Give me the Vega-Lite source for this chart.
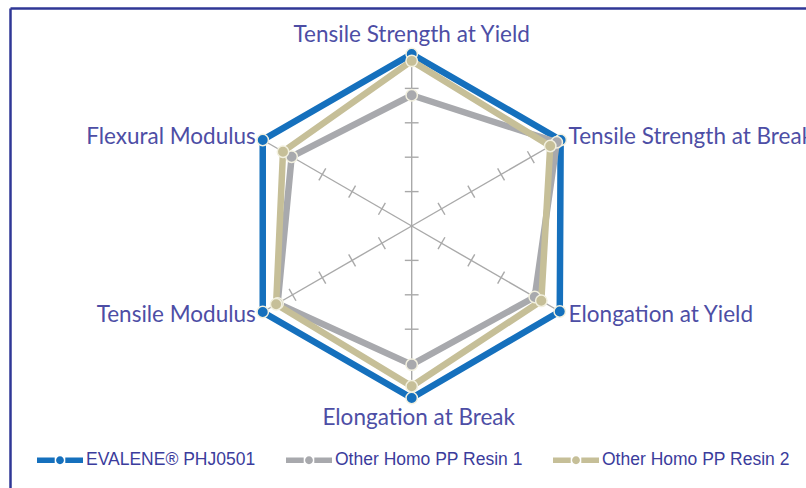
{
  "$schema": "https://vega.github.io/schema/vega-lite/v6.json",
  "width": 796,
  "height": 480,
  "autosize": {"type": "none"},
  "padding": {"left": 10, "top": 8, "right": 0, "bottom": 0},
  "background": "white",
  "config": {"view": {"stroke": null}},
  "datasets": {
    "axes": [
      {"property": "Tensile Strength at Yield", "order": 0, "levels": [1, 2, 3, 4]},
      {"property": "Tensile Strength at Break", "order": 1, "levels": [1, 2, 3, 4]},
      {"property": "Elongation at Yield", "order": 2, "levels": [1, 2, 3, 4]},
      {"property": "Elongation at Break", "order": 3, "levels": [1, 2, 3, 4]},
      {"property": "Tensile Modulus", "order": 4, "levels": [1, 2, 3, 4]},
      {"property": "Flexural Modulus", "order": 5, "levels": [1, 2, 3, 4]}
    ],
    "scores": [
      {"resin": "EVALENE® PHJ0501", "property": "Tensile Strength at Yield", "order": 0, "value": 5},
      {"resin": "EVALENE® PHJ0501", "property": "Tensile Strength at Break", "order": 1, "value": 5},
      {"resin": "EVALENE® PHJ0501", "property": "Elongation at Yield", "order": 2, "value": 4.97},
      {"resin": "EVALENE® PHJ0501", "property": "Elongation at Break", "order": 3, "value": 5},
      {"resin": "EVALENE® PHJ0501", "property": "Tensile Modulus", "order": 4, "value": 5},
      {"resin": "EVALENE® PHJ0501", "property": "Flexural Modulus", "order": 5, "value": 5},
      {"resin": "Other Homo PP Resin 1", "property": "Tensile Strength at Yield", "order": 0, "value": 3.8},
      {"resin": "Other Homo PP Resin 1", "property": "Tensile Strength at Break", "order": 1, "value": 4.87},
      {"resin": "Other Homo PP Resin 1", "property": "Elongation at Yield", "order": 2, "value": 4.13},
      {"resin": "Other Homo PP Resin 1", "property": "Elongation at Break", "order": 3, "value": 4.03},
      {"resin": "Other Homo PP Resin 1", "property": "Tensile Modulus", "order": 4, "value": 4.5},
      {"resin": "Other Homo PP Resin 1", "property": "Flexural Modulus", "order": 5, "value": 4.03},
      {"resin": "Other Homo PP Resin 2", "property": "Tensile Strength at Yield", "order": 0, "value": 4.8},
      {"resin": "Other Homo PP Resin 2", "property": "Tensile Strength at Break", "order": 1, "value": 4.65},
      {"resin": "Other Homo PP Resin 2", "property": "Elongation at Yield", "order": 2, "value": 4.35},
      {"resin": "Other Homo PP Resin 2", "property": "Elongation at Break", "order": 3, "value": 4.66},
      {"resin": "Other Homo PP Resin 2", "property": "Tensile Modulus", "order": 4, "value": 4.55},
      {"resin": "Other Homo PP Resin 2", "property": "Flexural Modulus", "order": 5, "value": 4.32}
    ]
  },
  "encoding": {
    "x": {
      "field": "px", "type": "quantitative",
      "scale": {"domain": [-11.677, 11.462], "nice": false, "zero": false},
      "axis": {"orient": "top", "labels": false, "ticks": false, "grid": false, "title": null, "domainColor": "#2f3796", "domainWidth": 2.5}
    },
    "y": {
      "field": "py", "type": "quantitative",
      "scale": {"domain": [-7.616, 6.337], "nice": false, "zero": false},
      "axis": {"orient": "left", "labels": false, "ticks": false, "grid": false, "title": null, "domainColor": "#2f3796", "domainWidth": 2.5}
    },
    "color": {"field": "resin", "type": "nominal",
      "scale": {"domain": ["EVALENE® PHJ0501", "Other Homo PP Resin 1", "Other Homo PP Resin 2"], "range": ["#1570bd", "#a8a9ad", "#c6bf98"]},
      "legend": {
        "orient": "none", "legendX": 27, "legendY": 429, "direction": "horizontal", "title": null,
        "symbolType": "M-1,-0.12H-0.23V0.12H-1Z M0.23,-0.12H1V0.12H0.23Z M0.17,0A0.17,0.17 0 1,1 -0.17,0A0.17,0.17 0 1,1 0.17,0Z",
        "symbolSize": 2116, "symbolStrokeWidth": 0, "symbolOpacity": 1,
        "labelFont": "Liberation Sans", "labelFontSize": 17.5, "labelColor": "#3b3c9c", "labelOffset": 3,
        "columnPadding": 30, "padding": 0, "labelLimit": 400
      }
    }
  },
  "layer": [
    {
      "data": {"name": "axes"},
      "transform": [
        {"calculate": "0", "as": "px"},
        {"calculate": "0", "as": "py"},
        {"calculate": "5*sin(datum.order*PI/3)", "as": "px2"},
        {"calculate": "5*cos(datum.order*PI/3)", "as": "py2"}
      ],
      "mark": {"type": "rule", "strokeWidth": 1.4},
      "encoding": {"x2": {"field": "px2"}, "y2": {"field": "py2"}, "color": {"value": "#a9a9a9"}}
    },
    {
      "data": {"name": "axes"},
      "transform": [
        {"flatten": ["levels"], "as": ["level"]},
        {"calculate": "datum.level*sin(datum.order*PI/3) - 0.2*cos(datum.order*PI/3)", "as": "px"},
        {"calculate": "datum.level*cos(datum.order*PI/3) + 0.2*sin(datum.order*PI/3)", "as": "py"},
        {"calculate": "datum.level*sin(datum.order*PI/3) + 0.2*cos(datum.order*PI/3)", "as": "px2"},
        {"calculate": "datum.level*cos(datum.order*PI/3) - 0.2*sin(datum.order*PI/3)", "as": "py2"}
      ],
      "mark": {"type": "rule", "strokeWidth": 1.4},
      "encoding": {"x2": {"field": "px2"}, "y2": {"field": "py2"}, "color": {"value": "#a9a9a9"}}
    },
    {
      "data": {"name": "scores"},
      "transform": [
        {"calculate": "datum.value*sin(datum.order*PI/3)", "as": "px"},
        {"calculate": "datum.value*cos(datum.order*PI/3)", "as": "py"}
      ],
      "mark": {"type": "line", "interpolate": "linear-closed", "strokeWidth": 6.5},
      "encoding": {
        "order": {"field": "order", "type": "quantitative"}
      }
    },
    {
      "data": {"name": "scores"},
      "transform": [
        {"calculate": "datum.value*sin(datum.order*PI/3)", "as": "px"},
        {"calculate": "datum.value*cos(datum.order*PI/3)", "as": "py"}
      ],
      "mark": {"type": "point", "shape": "circle", "filled": true, "opacity": 1, "size": 130, "stroke": "#f2f0df", "strokeWidth": 1.5}
    },
    {
      "data": {"name": "axes"},
      "transform": [
        {"filter": "datum.order == 0"},
        {"calculate": "5.2*sin(datum.order*PI/3)", "as": "px"},
        {"calculate": "5.2*cos(datum.order*PI/3)", "as": "py"}
      ],
      "mark": {"type": "text", "font": "Lato", "fontSize": 22.5, "align": "center", "baseline": "alphabetic", "dy": -5},
      "encoding": {"text": {"field": "property"}, "color": {"value": "#4d4ea5"}}
    },
    {
      "data": {"name": "axes"},
      "transform": [
        {"filter": "datum.order == 3"},
        {"calculate": "5.2*sin(datum.order*PI/3)", "as": "px"},
        {"calculate": "5.2*cos(datum.order*PI/3)", "as": "py"}
      ],
      "mark": {"type": "text", "font": "Lato", "fontSize": 22.5, "align": "center", "baseline": "alphabetic", "dy": 20, "dx": 7},
      "encoding": {"text": {"field": "property"}, "color": {"value": "#4d4ea5"}}
    },
    {
      "data": {"name": "axes"},
      "transform": [
        {"filter": "datum.order == 1 || datum.order == 2"},
        {"calculate": "5.2*sin(datum.order*PI/3)", "as": "px"},
        {"calculate": "5.2*cos(datum.order*PI/3)", "as": "py"}
      ],
      "mark": {"type": "text", "font": "Lato", "fontSize": 22.5, "align": "left", "baseline": "middle", "dx": 2},
      "encoding": {"text": {"field": "property"}, "color": {"value": "#4d4ea5"}}
    },
    {
      "data": {"name": "axes"},
      "transform": [
        {"filter": "datum.order == 4 || datum.order == 5"},
        {"calculate": "5.2*sin(datum.order*PI/3)", "as": "px"},
        {"calculate": "5.2*cos(datum.order*PI/3)", "as": "py"}
      ],
      "mark": {"type": "text", "font": "Lato", "fontSize": 22.5, "align": "right", "baseline": "middle", "dx": -1},
      "encoding": {"text": {"field": "property"}, "color": {"value": "#4d4ea5"}}
    }
  ]
}
